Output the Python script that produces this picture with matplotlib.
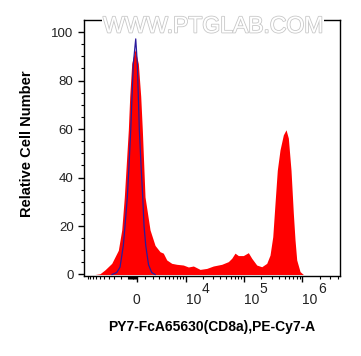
import numpy as np
import matplotlib
matplotlib.use("Agg")
import matplotlib.pyplot as plt
import matplotlib.patheffects as pe
from matplotlib.ticker import FixedLocator, FixedFormatter

plt.rcParams['font.family'] = ['Liberation Sans', 'DejaVu Sans']

# stained sample (CD8a, PE-Cy7), fluorescence intensity vs relative count
sample_x = [-7400, -6000, -4800, -3440, -2360, -1870, -1520, -1007, -835, -593,
            -200, 188, 473, 665, 995, 1640, 2350, 3140, 3730, 4410,
            5550, 6900, 9100, 11200, 13700, 17900, 23300, 30300, 42200, 54600,
            62500, 71100, 81000, 98500, 120000, 137000, 166800, 203000, 247000, 281000,
            313000, 342000, 374000, 416000, 474000, 527000, 577000, 641000, 702000, 750000,
            802000, 914000, 1040000]
sample_y = [0, 0.3, 1.9, 4.6, 10, 18.4, 32, 59.7, 73.5, 87,
            92.8, 87, 73.5, 59.7, 32, 18.4, 12, 9.4, 8.8, 6,
            4.6, 4.2, 3.9, 3.1, 3.5, 2.1, 2.5, 3.5, 4.2, 5.3,
            6.7, 8.8, 7.8, 7.8, 9, 6.7, 3.9, 3.2, 4.6, 8,
            15.6, 29.4, 43, 51.4, 57.6, 59.7, 56.3, 43, 25.3, 14.3,
            6, 1.2, 0]

# isotype control
iso_x = [-3390, -2610, -2110, -1650, -1430, -1130, -921, -713, -402, -118,
         71, 307, 509, 713, 872, 1083, 1440, 1870, 2350]
iso_y = [0, 0.8, 3, 12, 20, 32, 45, 59.7, 87, 97.2,
         87, 59.7, 45, 32, 20, 12, 4, 0.8, 0]

x_major = [0, 1e4, 1e5, 1e6]
x_major_labels = ['0', '10', '10', '10']
x_exponents = ['', '4', '5', '6']
y_major = [0, 20, 40, 60, 80, 100]

fig = plt.figure(figsize=(3.61, 3.56), dpi=100)
ax = fig.add_axes([84 / 361, 1 - 275.7 / 356, 255.5 / 361, 255.7 / 356])

ax.fill_between(sample_x, 0, sample_y, color='#ff0000', lw=0, zorder=2)
ax.plot(iso_x, iso_y, color='#2a1a9c', lw=0.9, zorder=3)

ax.set_xscale('asinh', linear_width=3000)
ax.set_xlim(-11700, 4.3e6)
ax.set_ylim(-0.5, 105)

# biexponential style ticks
minor = [-k * 10 ** n for n in (2, 3) for k in range(1, 10)] + [-1e4]
minor += [k * 10 ** n for n in (3, 4, 5, 6) for k in range(1, 10) if k * 10 ** n < 4.3e6]
minor = [m for m in minor if m not in x_major]
ax.xaxis.set_major_locator(FixedLocator(x_major))
ax.xaxis.set_major_formatter(FixedFormatter(x_major_labels))
ax.xaxis.set_minor_locator(FixedLocator(minor))
ax.xaxis.set_minor_formatter(FixedFormatter([''] * len(minor)))

ax.set_yticks(y_major)
ax.set_yticks(np.arange(0, 105, 5), minor=True)

ax.tick_params(axis='both', which='major', direction='out', length=4.5, width=1,
               labelsize=9.5, labelcolor='#222222', pad=3)
ax.tick_params(axis='both', which='minor', direction='out', length=2.3, width=0.8)
ax.tick_params(axis='x', which='major', pad=8, labelsize=10)

for lab in ax.get_xticklabels()[1:]:
    lab.set_ha('left')

# exponents drawn full size, raised, like the cytometry software does
for v, e in zip(x_major, x_exponents):
    if e:
        ax.annotate(e, xy=(v, 0), xycoords=ax.get_xaxis_transform(),
                    xytext=(11.2, -9.6), textcoords='offset points',
                    ha='left', va='center', fontsize=10, color='#222222')

for s in ax.spines.values():
    s.set_linewidth(1)

fig.text(27 / 361, 1 - 143.5 / 356, 'Relative Cell Number', rotation=90,
         ha='center', va='center', fontsize=10.5, fontweight='bold')
fig.text(211.7 / 361, 1 - 326.7 / 356, 'PY7-FcA65630(CD8a),PE-Cy7-A',
         ha='center', va='center', fontsize=10, fontweight='bold')

fig.text(213 / 361, 1 - 26 / 356, 'WWW.PTGLAB.COM', ha='center', va='center',
         fontsize=16.5, color='white', zorder=10,
         path_effects=[pe.Stroke(linewidth=1.2, foreground='#c8c8c8'), pe.Normal()],
         bbox=dict(facecolor='white', edgecolor='none', pad=0.5))

fig.savefig('out.png', dpi=100)
